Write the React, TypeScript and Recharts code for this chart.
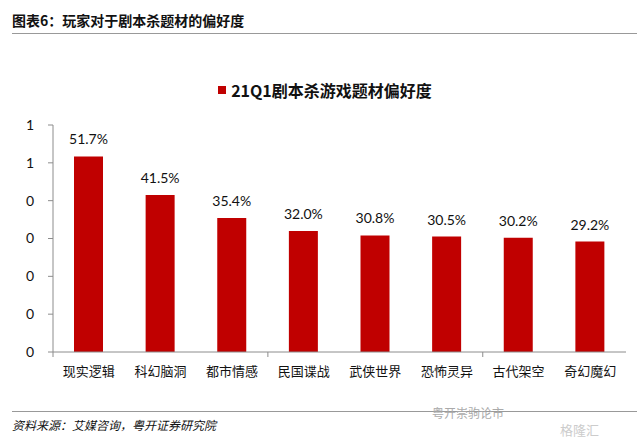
import { BarChart, Bar, XAxis, YAxis, LabelList } from "recharts";

const categories = ["现实逻辑", "科幻脑洞", "都市情感", "民国谍战", "武侠世界", "恐怖灵异", "古代架空", "奇幻魔幻"];
const preference = [0.517, 0.415, 0.354, 0.32, 0.308, 0.305, 0.302, 0.292];
const yTicks = [0, 0.1, 0.2, 0.3, 0.4, 0.5, 0.6];

const seriesName = "21Q1剧本杀游戏题材偏好度";

const data = categories.map((name, i) => ({ name, value: preference[i] }));

const PLOT_LEFT = 53;
const PLOT_RIGHT = 626;
const CAT_W = (PLOT_RIGHT - PLOT_LEFT) / categories.length;
const AXIS = "#8c8c8c";

const CategoryTick = (props: any) => {
  const { x, y, payload, index } = props;
  return (
    <g>
      {index % 3 === 0 && (
        <line x1={x - CAT_W / 2} x2={x - CAT_W / 2} y1={y - 8} y2={y - 3} stroke={AXIS} />
      )}
      <text
        x={x}
        y={y + 16}
        textAnchor="middle"
        fontSize={13}
        fill="#111"
        fontFamily="'Noto Sans CJK SC', sans-serif"
      >
        {payload.value}
      </text>
    </g>
  );
};

export default function App() {
  return (
    <div
      style={{
        position: "absolute",
        left: 0,
        top: 0,
        width: 637,
        height: 441,
        background: "#fff",
        fontFamily: "'Noto Sans CJK SC', sans-serif",
      }}
    >
      <div style={{ position: "absolute", left: 12, top: 10, fontSize: 14, fontWeight: 700, color: "#111" }}>
        图表6：玩家对于剧本杀题材的偏好度
      </div>
      <div style={{ position: "absolute", left: 12, right: 0, top: 33, height: 1, background: "#999" }} />

      <div
        style={{
          position: "absolute",
          left: 205,
          top: 78,
          width: 240,
          display: "flex",
          alignItems: "center",
          justifyContent: "center",
          fontWeight: 700,
          fontSize: 16,
          color: "#111",
        }}
      >
        <span style={{ width: 8, height: 8, background: "#c00000", marginRight: 5, display: "inline-block" }} />
        {seriesName}
      </div>

      <div style={{ position: "absolute", left: 0, top: 0 }}>
        <BarChart
          width={637}
          height={441}
          data={data}
          margin={{ top: 125, right: 637 - PLOT_RIGHT, bottom: 59, left: 13 }}
        >
          <XAxis
            dataKey="name"
            height={30}
            interval={0}
            tickLine={false}
            axisLine={{ stroke: AXIS }}
            tick={<CategoryTick />}
          />
          <YAxis
            width={40}
            domain={[0, 0.6]}
            ticks={yTicks}
            interval={0}
            tickFormatter={(v: number) => String(Math.round(v))}
            tickSize={5}
            tickMargin={14}
            axisLine={{ stroke: AXIS }}
            tickLine={{ stroke: AXIS }}
            tick={{ fill: "#111", fontSize: 14, fontFamily: "Lato, sans-serif" }}
          />
          <Bar dataKey="value" name={seriesName} fill="#c00000" barSize={29} isAnimationActive={false}>
            <LabelList
              dataKey="value"
              position="top"
              offset={12}
              formatter={(v: any) => (Number(v) * 100).toFixed(1) + "%"}
              style={{ fill: "#111", fontSize: 14, fontFamily: "Lato, sans-serif" }}
            />
          </Bar>
        </BarChart>
      </div>

      <div style={{ position: "absolute", left: 12, right: 0, top: 411, height: 1, background: "#999" }} />
      <div style={{ position: "absolute", left: 12, top: 416, fontSize: 12, fontStyle: "italic", color: "#111" }}>
        资料来源：艾媒咨询，粤开证券研究院
      </div>
      <div style={{ position: "absolute", left: 432, top: 404, fontSize: 12, color: "#aaa" }}>粤开崇驹论市</div>
      <div style={{ position: "absolute", left: 560, top: 420, fontSize: 13, color: "#ccc" }}>格隆汇</div>
    </div>
  );
}
